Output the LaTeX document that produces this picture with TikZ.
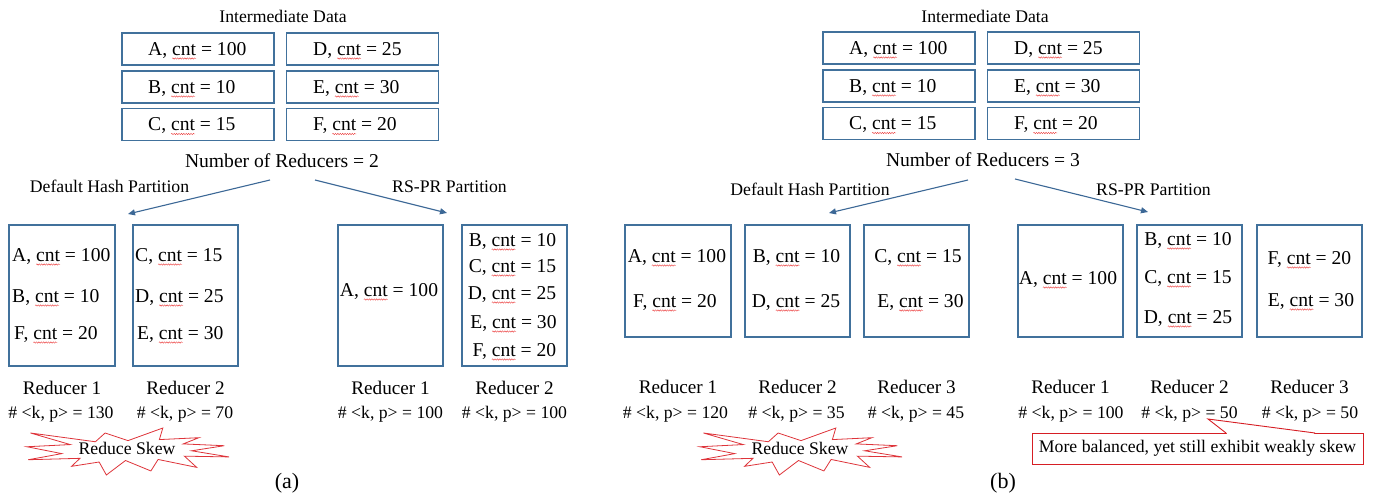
\documentclass[tikz,border=0pt]{standalone}
\usepackage{fontspec}
\setmainfont{Liberation Serif}
\usetikzlibrary{arrows.meta,decorations.pathmorphing}

\definecolor{boxblue}{RGB}{65,113,156}
\definecolor{arrowblue}{RGB}{60,104,150}
\definecolor{burstred}{RGB}{222,52,58}
\definecolor{noteRed}{RGB}{214,30,36}
\definecolor{waveRed}{RGB}{235,60,60}

\newcommand\fbig{\fontsize{19.6}{23}\selectfont}
\newcommand\flab{\fontsize{19.2}{22}\selectfont}
\newcommand\fsmall{\fontsize{17.7}{21}\selectfont}
\newcommand\fcap{\fontsize{22}{26}\selectfont}

% word with a red wavy underline (spell-check mark)
\newcommand\spl[1]{\tikz[baseline=(w.base)]{\node[inner sep=0pt,outer sep=0pt,anchor=base](w){#1};%
  \draw[overlay,waveRed,line width=0.4pt,decorate,decoration={snake,amplitude=0.7pt,segment length=2.4pt}]
    ([yshift=-3pt]w.base west) -- ([yshift=-3pt]w.base east);}}

% explosion-shaped burst, placed by its top-left corner
\newcommand\drawburst[2]{%
  \begin{scope}[shift={(#1,#2)},x=0.93519pt,y=-0.21759pt]
    \draw[burstred,line width=0.8pt,fill=white,line join=miter]
      (108,58) -- (145.22,0) -- (141.55,53.25) -- (183.80,44.57) -- (167.02,73.15)
      -- (210.97,81.37) -- (176.07,104.75) -- (216,132.90) -- (168.37,129.42)
      -- (181.45,180.95) -- (140.20,144.57) -- (132.47,197.37) -- (105.32,149.35)
      -- (84.85,216) -- (77.15,156.27) -- (47.62,176.17) -- (56.67,139.37)
      -- (1.35,145.87) -- (37.22,117.75) -- (0,86.15) -- (46.27,76.17)
      -- (3.70,22.95) -- (73.12,63.20) -- (83.52,22.95) -- cycle;
  \end{scope}}

\begin{document}
\begin{tikzpicture}[x=1pt,y=-1pt,
  cell/.style={draw=boxblue,line width=1.1pt,minimum width=152pt,minimum height=32pt,inner sep=0pt},
  rbox/.style={draw=boxblue,line width=1.1pt,inner sep=0pt},
  bigtxt/.style={inner sep=0pt,anchor=base,font=\fbig},
  celltxt/.style={inner sep=0pt,anchor=base west,font=\fbig},
  labtxt/.style={inner sep=0pt,anchor=base,font=\flab},
  smalltxt/.style={inner sep=0pt,anchor=base,font=\fsmall},
  captxt/.style={inner sep=0pt,anchor=base,font=\fcap},
  flow/.style={arrowblue,line width=1.1pt,-{Triangle[length=7pt,width=6pt]}},
  note/.style={draw=noteRed,line width=0.9pt,fill=white,inner sep=0pt,
    minimum width=331pt,minimum height=31pt,font=\fsmall}
]
\useasboundingbox (0,0) rectangle (1374,497);

%%%%%%%%%%%%%%%%%%%%%%%%%%%% (a) two reducers
\node[smalltxt] (a-title) at (283,23) {Intermediate Data};
\node[cell] (a-A) at (198,49) {};
\node[cell] (a-D) at (362.5,49) {};
\node[cell] (a-B) at (198,87) {};
\node[cell] (a-E) at (362.5,87) {};
\node[cell] (a-C) at (198,124.5) {};
\node[cell] (a-F) at (362.5,124.5) {};
\node[celltxt] (a-A-t) at (148,55.5) {A, \spl{cnt} = 100};
\node[celltxt] (a-D-t) at (313,55.5) {D, \spl{cnt} = 25};
\node[celltxt] (a-B-t) at (148,93.5) {B, \spl{cnt} = 10};
\node[celltxt] (a-E-t) at (313,93.5) {E, \spl{cnt} = 30};
\node[celltxt] (a-C-t) at (148,131)  {C, \spl{cnt} = 15};
\node[celltxt] (a-F-t) at (313,131)  {F, \spl{cnt} = 20};

\node[bigtxt] (a-num) at (282,167.5) {Number of Reducers = 2};
\node[smalltxt] (a-hash) at (109.5,193) {Default Hash Partition};
\node[smalltxt] (a-rspr) at (449.5,193) {RS-PR Partition};

\coordinate (a-s1) at (270,180);
\coordinate (a-e1) at (128,214);
\coordinate (a-s2) at (315,180);
\coordinate (a-e2) at (447,213);
\draw[flow] (a-s1) -- (a-e1);
\draw[flow] (a-s2) -- (a-e2);

\node[rbox,minimum width=106pt,minimum height=141pt] (a-r1) at (62,295.5) {};
\node[rbox,minimum width=105pt,minimum height=141pt] (a-r2) at (185.5,295.5) {};
\node[rbox,minimum width=105pt,minimum height=141pt] (a-r3) at (390.5,295.5) {};
\node[rbox,minimum width=105pt,minimum height=141pt] (a-r4) at (514.5,295.5) {};

\node[celltxt] (a-r1-A) at (12,261.5)  {A, \spl{cnt} = 100};
\node[celltxt] (a-r1-B) at (12,302.5)  {B, \spl{cnt} = 10};
\node[celltxt] (a-r1-F) at (14,339.5)  {F, \spl{cnt} = 20};
\node[celltxt] (a-r2-C) at (135,261.5) {C, \spl{cnt} = 15};
\node[celltxt] (a-r2-D) at (135,302.5) {D, \spl{cnt} = 25};
\node[celltxt] (a-r2-E) at (137,339.5) {E, \spl{cnt} = 30};
\node[bigtxt] (a-r3-A) at (389,296.5) {A, \spl{cnt} = 100};
\node[bigtxt] (a-r4-B) at (512.5,246.5) {B, \spl{cnt} = 10};
\node[bigtxt] (a-r4-C) at (512.5,272.5) {C, \spl{cnt} = 15};
\node[bigtxt] (a-r4-D) at (512,299.5)   {D, \spl{cnt} = 25};
\node[bigtxt] (a-r4-E) at (513.5,328.5) {E, \spl{cnt} = 30};
\node[bigtxt] (a-r4-F) at (514.5,356.5) {F, \spl{cnt} = 20};

\node[labtxt] (a-l1) at (62,394.5)    {Reducer 1};
\node[labtxt] (a-l2) at (185.5,394.5) {Reducer 2};
\node[labtxt] (a-l3) at (390.5,394.5) {Reducer 1};
\node[labtxt] (a-l4) at (514.5,394.5) {Reducer 2};
\node[smalltxt] (a-c1) at (61,418)    {\# <k, p> = 130};
\node[smalltxt] (a-c2) at (185,418)   {\# <k, p> = 70};
\node[smalltxt] (a-c3) at (390.5,418) {\# <k, p> = 100};
\node[smalltxt] (a-c4) at (514.5,418) {\# <k, p> = 100};

\drawburst{27}{428}
\node[smalltxt] (a-skew) at (127,454) {Reduce Skew};
\node[captxt] (a-cap) at (287,488.6) {(a)};

%%%%%%%%%%%%%%%%%%%%%%%%%%%% (b) three reducers
\node[smalltxt] (b-title) at (985,23) {Intermediate Data};
\node[cell] (b-A) at (899,48) {};
\node[cell] (b-D) at (1063.5,48) {};
\node[cell] (b-B) at (899,86) {};
\node[cell] (b-E) at (1063.5,86) {};
\node[cell] (b-C) at (899,123.5) {};
\node[cell] (b-F) at (1063.5,123.5) {};
\node[celltxt] (b-A-t) at (849,54.5)  {A, \spl{cnt} = 100};
\node[celltxt] (b-D-t) at (1014,54.5) {D, \spl{cnt} = 25};
\node[celltxt] (b-B-t) at (849,92.5)  {B, \spl{cnt} = 10};
\node[celltxt] (b-E-t) at (1014,92.5) {E, \spl{cnt} = 30};
\node[celltxt] (b-C-t) at (849,130)   {C, \spl{cnt} = 15};
\node[celltxt] (b-F-t) at (1014,130)  {F, \spl{cnt} = 20};

\node[bigtxt] (b-num) at (983,166.5) {Number of Reducers = 3};
\node[smalltxt] (b-hash) at (810,196) {Default Hash Partition};
\node[smalltxt] (b-rspr) at (1153.5,196) {RS-PR Partition};

\coordinate (b-s1) at (968,180);
\coordinate (b-e1) at (829,213);
\coordinate (b-s2) at (1015,179);
\coordinate (b-e2) at (1148,212);
\draw[flow] (b-s1) -- (b-e1);
\draw[flow] (b-s2) -- (b-e2);

\node[rbox,minimum width=106pt,minimum height=112pt] (b-r1) at (678,281) {};
\node[rbox,minimum width=105pt,minimum height=112pt] (b-r2) at (797.5,281) {};
\node[rbox,minimum width=105pt,minimum height=112pt] (b-r3) at (916.5,281) {};
\node[rbox,minimum width=105pt,minimum height=112pt] (b-r4) at (1070.5,281) {};
\node[rbox,minimum width=105pt,minimum height=112pt] (b-r5) at (1189.5,281) {};
\node[rbox,minimum width=105pt,minimum height=112pt] (b-r6) at (1309.5,281) {};

\node[bigtxt] (b-r1-A) at (677,262.5)   {A, \spl{cnt} = 100};
\node[bigtxt] (b-r1-F) at (675,307.5)   {F, \spl{cnt} = 20};
\node[bigtxt] (b-r2-B) at (796.5,262.5) {B, \spl{cnt} = 10};
\node[bigtxt] (b-r2-D) at (796,307.5)   {D, \spl{cnt} = 25};
\node[bigtxt] (b-r3-C) at (918,262.5)   {C, \spl{cnt} = 15};
\node[bigtxt] (b-r3-E) at (920.5,307.5) {E, \spl{cnt} = 30};
\node[bigtxt] (b-r4-A) at (1068,284.5)  {A, \spl{cnt} = 100};
\node[bigtxt] (b-r5-B) at (1188,245.5)  {B, \spl{cnt} = 10};
\node[bigtxt] (b-r5-C) at (1188,283.5)  {C, \spl{cnt} = 15};
\node[bigtxt] (b-r5-D) at (1188,323.5)  {D, \spl{cnt} = 25};
\node[bigtxt] (b-r6-F) at (1309.5,264.5) {F, \spl{cnt} = 20};
\node[bigtxt] (b-r6-E) at (1311,306.5)   {E, \spl{cnt} = 30};

\node[labtxt] (b-l1) at (678,393.5)    {Reducer 1};
\node[labtxt] (b-l2) at (797.5,393.5)  {Reducer 2};
\node[labtxt] (b-l3) at (916.5,393.5)  {Reducer 3};
\node[labtxt] (b-l4) at (1070.5,393.5) {Reducer 1};
\node[labtxt] (b-l5) at (1189.5,393.5) {Reducer 2};
\node[labtxt] (b-l6) at (1309.5,393.5) {Reducer 3};
\node[smalltxt] (b-c1) at (675.5,418)  {\# <k, p> = 120};
\node[smalltxt] (b-c2) at (796.5,418)  {\# <k, p> = 35};
\node[smalltxt] (b-c3) at (916,418)    {\# <k, p> = 45};
\node[smalltxt] (b-c4) at (1071,418)   {\# <k, p> = 100};
\node[smalltxt] (b-c5) at (1189.5,418) {\# <k, p> = 50};
\node[smalltxt] (b-c6) at (1310,418)   {\# <k, p> = 50};

\drawburst{700}{428}
\node[smalltxt] (b-skew) at (800,454) {Reduce Skew};

% callout box with its pointer
\node[note] (b-note) at (1197.5,448.5) {More balanced, yet still exhibit weakly skew};
\coordinate (b-tip) at (1208,419);
\coordinate (b-p1) at (1226,433);
\coordinate (b-p2) at (1315,433);
\fill[white] (b-p1) -- (b-tip) -- (b-p2) -- cycle;
\draw[white,line width=1.4pt] ([xshift=0.8pt]b-p1) -- ([xshift=-0.8pt]b-p2);
\draw[noteRed,line width=0.9pt,line join=miter] (b-p1) -- (b-tip) -- (b-p2);

\node[captxt] (b-cap) at (1003,488.6) {(b)};
\end{tikzpicture}
\end{document}
